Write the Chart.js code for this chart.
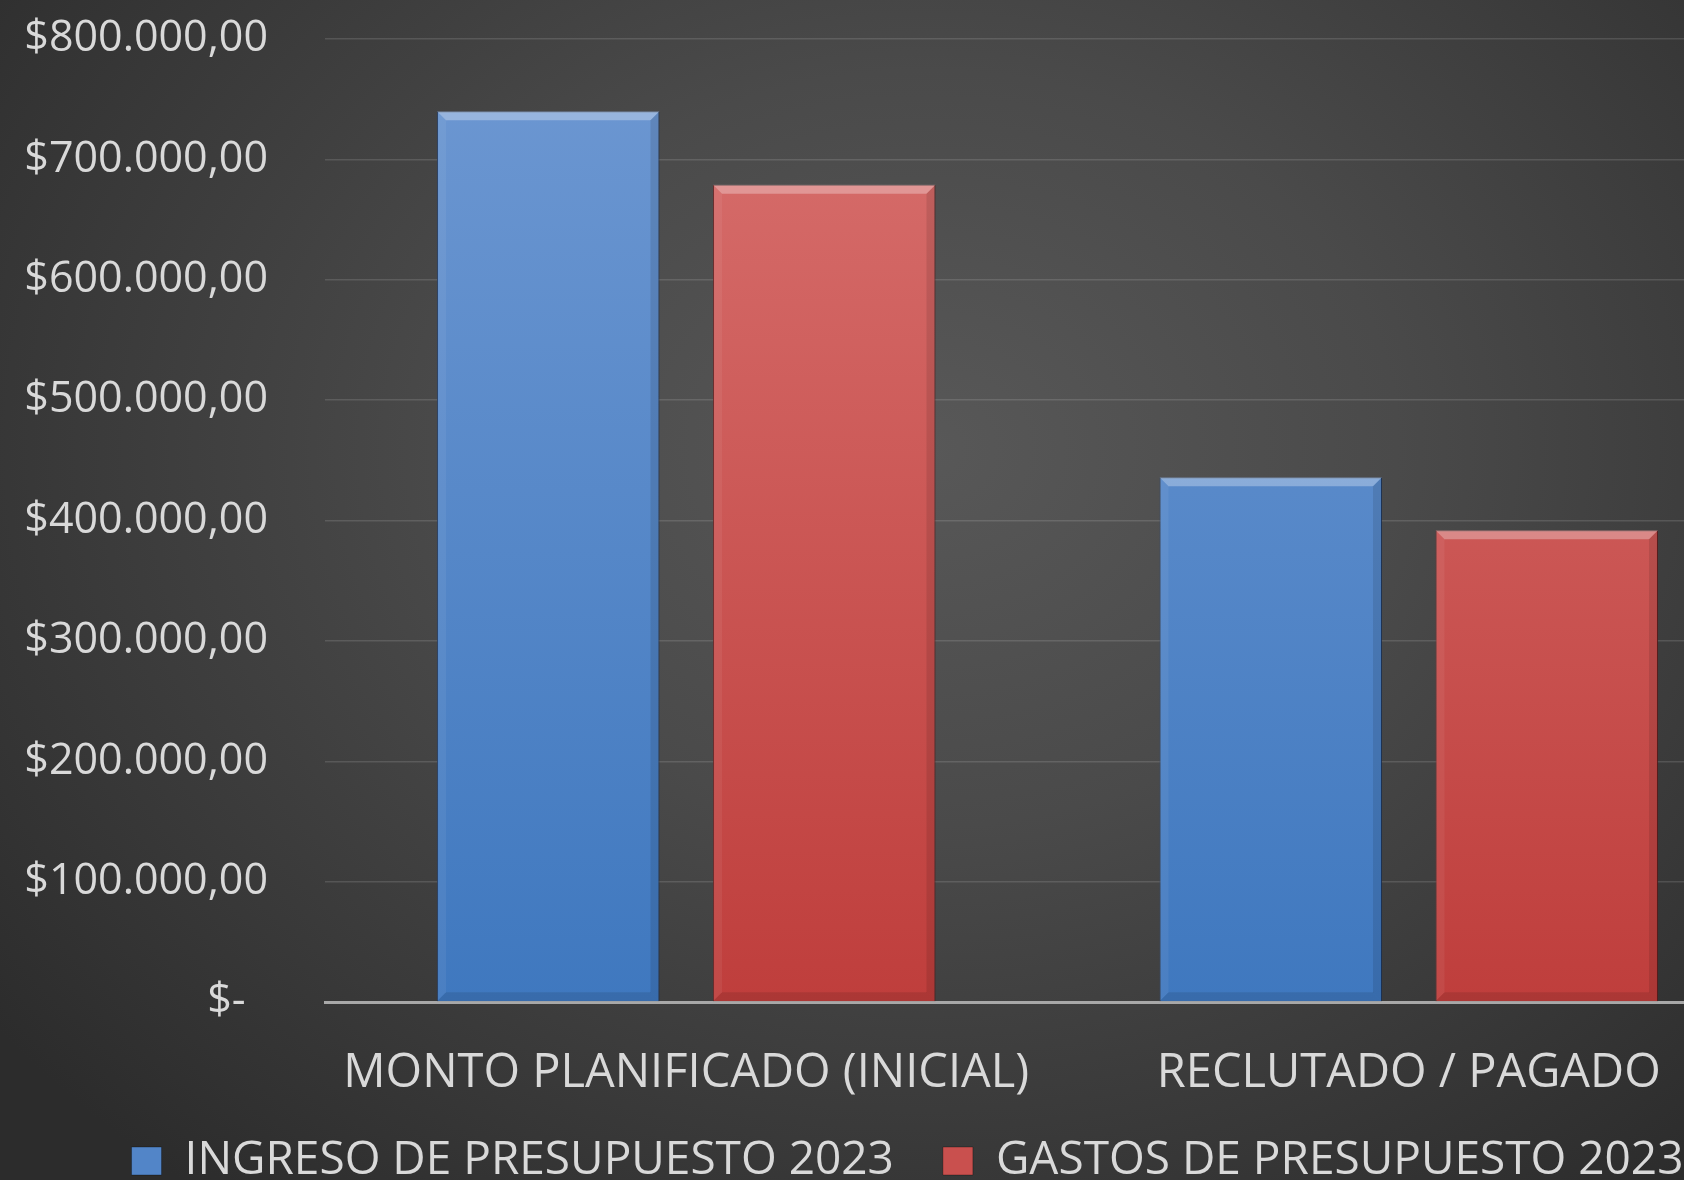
<!DOCTYPE html>
<html>
<head>
<meta charset="utf-8">
<script src="https://cdn.jsdelivr.net/npm/chart.js@4.4.1/dist/chart.umd.min.js"></script>
<style>
  html { margin: 0; padding: 0; width: 1684px; height: 1180px; overflow: hidden; }
  body {
    margin: 0; padding: 0;
    width: 1684px; height: 1180px; overflow: hidden; position: relative;
    background: radial-gradient(ellipse 70% 80% at 55% 38%, #585858 0%, #4a4a4a 40%, #2c2c2c 100%);
  }
  #wrap { position: absolute; left: 0; top: 0; }
</style>
</head>
<body>
<div id="wrap"><canvas id="c" width="1815" height="1194"></canvas></div>
<script>
const categories = ['MONTO PLANIFICADO (INICIAL)', 'RECLUTADO / PAGADO'];
const seriesNames = ['INGRESO DE PRESUPUESTO 2023', 'GASTOS DE PRESUPUESTO 2023'];
const ingreso = [740000, 436000];
const gastos = [679000, 392000];
const yTickValues = [0, 100000, 200000, 300000, 400000, 500000, 600000, 700000, 800000];
const yTickLabels = ['$-  ', '$100.000,00', '$200.000,00', '$300.000,00', '$400.000,00', '$500.000,00', '$600.000,00', '$700.000,00', '$800.000,00'];

const FONT = "'Open Sans', 'Liberation Sans', sans-serif";
const TEXT = '#d9d9d9';

function barGradient(ctx, top, bottom) {
  const chart = ctx.chart;
  const area = chart.chartArea;
  if (!area) return bottom;
  const g = chart.ctx.createLinearGradient(0, area.top, 0, area.bottom);
  g.addColorStop(0, top);
  g.addColorStop(1, bottom);
  return g;
}

const bevel = {
  id: 'bevel',
  afterDatasetsDraw(chart) {
    const c = chart.ctx;
    chart.data.datasets.forEach((ds, di) => {
      const meta = chart.getDatasetMeta(di);
      meta.data.forEach(bar => {
        const l = bar.x - bar.width / 2, r = bar.x + bar.width / 2, t = bar.y, b = bar.base;
        const e = 9;
        c.save();
        c.fillStyle = 'rgba(255,255,255,0.30)';
        c.beginPath();
        c.moveTo(l, t); c.lineTo(r, t); c.lineTo(r - e, t + e); c.lineTo(l + e, t + e); c.closePath();
        c.fill();
        c.fillStyle = 'rgba(0,0,0,0.10)';
        c.beginPath();
        c.moveTo(r, t); c.lineTo(r, b); c.lineTo(r - e, b - e); c.lineTo(r - e, t + e); c.closePath();
        c.fill();
        c.beginPath();
        c.moveTo(l, b); c.lineTo(r, b); c.lineTo(r - e, b - e); c.lineTo(l + e, b - e); c.closePath();
        c.fill();
        c.fillStyle = 'rgba(255,255,255,0.06)';
        c.beginPath();
        c.moveTo(l, t); c.lineTo(l + e, t + e); c.lineTo(l + e, b - e); c.lineTo(l, b); c.closePath();
        c.fill();
        c.restore();
      });
    });
  }
};

new Chart(document.getElementById('c'), {
  type: 'bar',
  data: {
    labels: categories,
    datasets: [
      {
        label: seriesNames[0],
        data: ingreso,
        backgroundColor: ctx => barGradient(ctx, '#6e98d2', '#3f78bf'),
        borderColor: 'rgba(30,55,95,0.9)',
        borderWidth: 1,
        categoryPercentage: 0.764,
        barPercentage: 0.806
      },
      {
        label: seriesNames[1],
        data: gastos,
        backgroundColor: ctx => barGradient(ctx, '#d8716f', '#bf3e3c'),
        borderColor: 'rgba(100,30,30,0.9)',
        borderWidth: 1,
        categoryPercentage: 0.764,
        barPercentage: 0.806
      }
    ]
  },
  options: {
    responsive: false,
    animation: false,
    layout: { padding: { top: 39, right: 0, left: 0, bottom: 0 } },
    plugins: {
      tooltip: { enabled: false },
      legend: {
        position: 'bottom',
        labels: {
          color: TEXT,
          font: { family: FONT, size: 46 },
          boxWidth: 30,
          boxHeight: 28,
          padding: 49,
          generateLabels(chart) {
            const fills = ['#5285c8', '#c9504e'];
            return chart.data.datasets.map((ds, i) => ({
              text: ds.label,
              fillStyle: fills[i],
              strokeStyle: 'rgba(0,0,0,0.3)',
              lineWidth: 1,
              fontColor: TEXT,
              hidden: false,
              datasetIndex: i
            }));
          }
        }
      }
    },
    scales: {
      x: {
        afterFit(scale) {
          scale.height = 87;
          scale._computeLabelArea = () => null;
        },
        grid: { display: false, drawTicks: false },
        border: { display: true, color: '#a8a8a8', width: 3 },
        ticks: {
          color: TEXT,
          font: { family: FONT, size: 47 },
          padding: 43.6,
          maxRotation: 0,
          autoSkip: false
        }
      },
      y: {
        min: 0,
        max: 800000,
        afterFit(scale) { scale.width = 325; },
        afterBuildTicks(scale) { scale.ticks = yTickValues.map(v => ({ value: v })); },
        grid: {
          drawTicks: true,
          tickLength: 57,
          tickColor: 'rgba(0,0,0,0)',
          color: ctx => ctx.tick && ctx.tick.value === 0 ? 'rgba(0,0,0,0)' : 'rgba(255,255,255,0.13)',
          lineWidth: 1.5
        },
        border: { display: false },
        ticks: {
          color: TEXT,
          font: { family: FONT, size: 43 },
          padding: 0,
          callback: (v) => {
            const i = yTickValues.indexOf(v);
            return i >= 0 ? yTickLabels[i] : '';
          }
        }
      },
      yRight: {
        type: 'linear',
        position: 'right',
        afterFit(scale) { scale.width = 45; },
        grid: { display: false, drawTicks: false },
        border: { display: false },
        ticks: { display: false }
      }
    }
  },
  plugins: [bevel]
});
</script>
</body>
</html>
